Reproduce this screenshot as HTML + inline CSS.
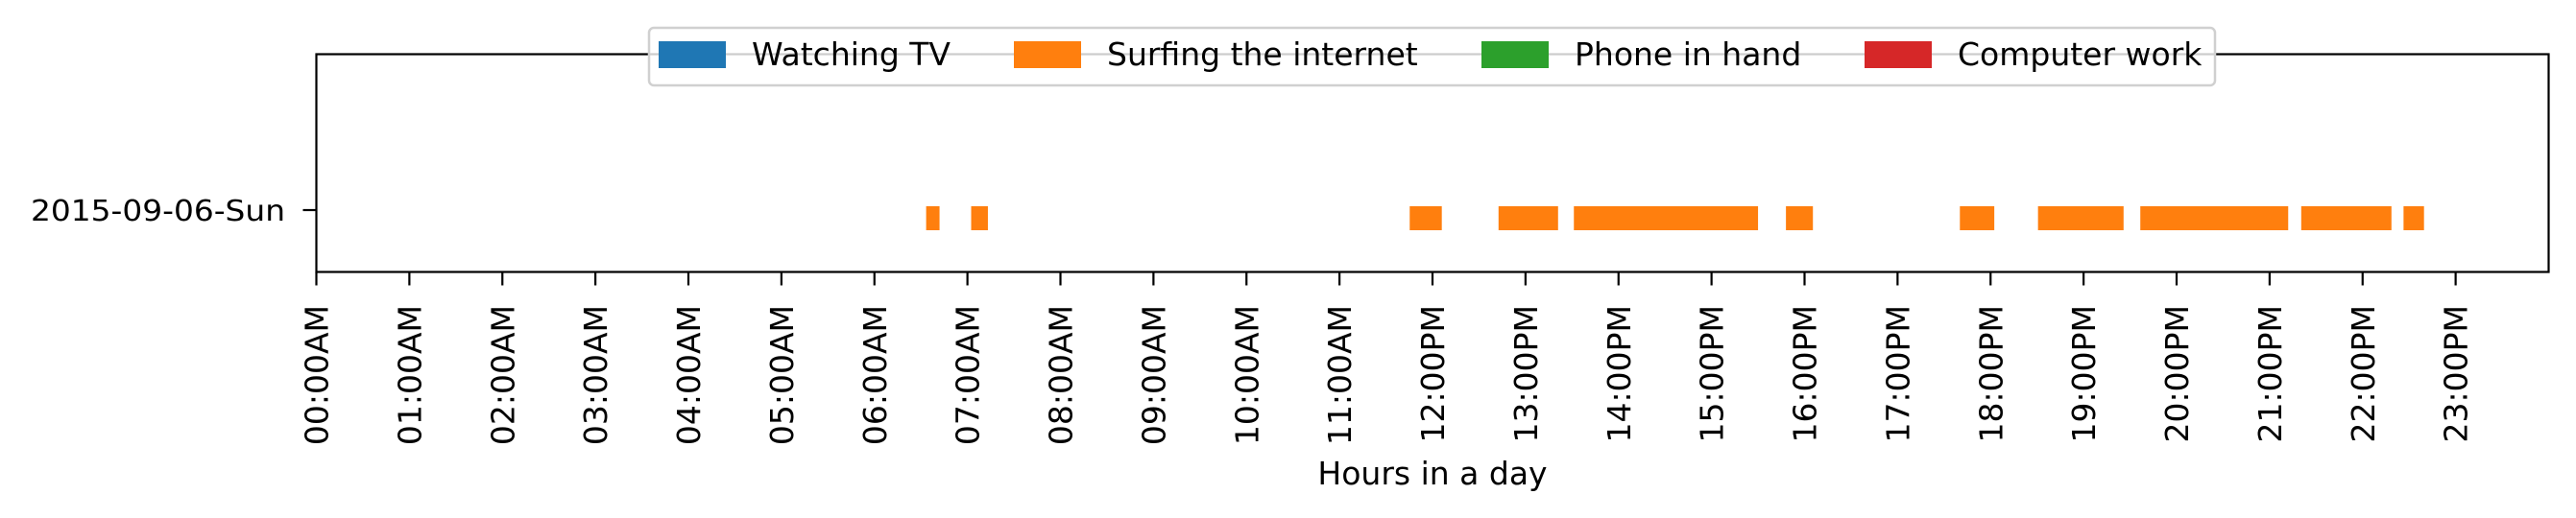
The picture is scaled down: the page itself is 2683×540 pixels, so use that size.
<!DOCTYPE html>
<html><head><meta charset="utf-8"><style>
html,body{margin:0;padding:0;background:#fff;}
svg{display:block;font-family:"DejaVu Sans","Liberation Sans",sans-serif;}
</style></head><body>
<svg id="chart" width="2683" height="540" viewBox="0 0 2683 540" xmlns="http://www.w3.org/2000/svg">
<g id="bars"></g>
<g id="axes"></g>
<g id="legend"></g>
</svg>
<script>
const days = ["2015-09-06-Sun"];
const surfStarts = [6.556, 7.04, 11.755, 12.71, 13.52, 15.80, 17.67, 18.51, 19.61, 21.34, 22.44];
const surfEnds   = [6.70, 7.22, 12.10, 13.35, 15.50, 16.09, 18.04, 19.43, 21.20, 22.31, 22.66];
const hourTicks = ["00:00AM","01:00AM","02:00AM","03:00AM","04:00AM","05:00AM","06:00AM","07:00AM","08:00AM","09:00AM","10:00AM","11:00AM","12:00PM","13:00PM","14:00PM","15:00PM","16:00PM","17:00PM","18:00PM","19:00PM","20:00PM","21:00PM","22:00PM","23:00PM"];
const legendLabels = ["Watching TV","Surfing the internet","Phone in hand","Computer work"];
const legendColors = ["#1f77b4","#ff7f0e","#2ca02c","#d62728"];

const NS="http://www.w3.org/2000/svg";
const L=329.5,R=2654.5,T=56.5,B=283.5;
const x=h=>L+(h/24)*(R-L);
function mk(tag,attrs,parent){const e=document.createElementNS(NS,tag);for(const k in attrs)e.setAttribute(k,attrs[k]);parent.appendChild(e);return e;}
const bars=document.getElementById('bars'),axes=document.getElementById('axes'),legend=document.getElementById('legend');

for(let i=0;i<surfStarts.length;i++){
  const r=mk('rect',{x:x(surfStarts[i]),y:215,width:x(surfEnds[i])-x(surfStarts[i]),height:25,fill:"#ff7f0e"},bars);
  
  
}
const frame=mk('rect',{x:L,y:T,width:R-L,height:B-T,fill:"none",stroke:"#000","stroke-width":2.2},axes);



days.forEach((d,i)=>{
  const yy=219;
  const tk=mk('line',{x1:L-14,x2:L,y1:yy,y2:yy,stroke:"#000","stroke-width":2.2},axes);
  
  
  const t=mk('text',{x:297,y:yy+11,"text-anchor":"end","font-size":30,textLength:265,lengthAdjust:"spacingAndGlyphs"},axes);
  t.textContent=d;
  
  
});

hourTicks.forEach((lab,i)=>{
  const xx=x(i);
  const tk=mk('line',{x1:xx,x2:xx,y1:B,y2:B+14,stroke:"#000","stroke-width":2.2},axes);
  
  
  const t=mk('text',{x:0,y:0,"text-anchor":"end","font-size":33,transform:`translate(${xx+12},318) rotate(-90)`},axes);
  t.textContent=lab;
  
  
});
const xl=mk('text',{x:(L+R)/2,y:505,"text-anchor":"middle","font-size":33},axes);
xl.textContent="Hours in a day";



const lb=mk('rect',{x:676,y:29,width:1631,height:60,rx:5,fill:"#fff","fill-opacity":0.8,stroke:"#d0d0d0","stroke-width":2.5},legend);


const px=[686,1056,1543,1942];
legendLabels.forEach((lab,i)=>{
  const p=mk('rect',{x:px[i],y:43,width:70,height:28,fill:legendColors[i]},legend);
  
  
  const t=mk('text',{x:px[i]+97,y:68,"font-size":33},legend);
  t.textContent=lab;
  
  
});
</script>
</body></html>
